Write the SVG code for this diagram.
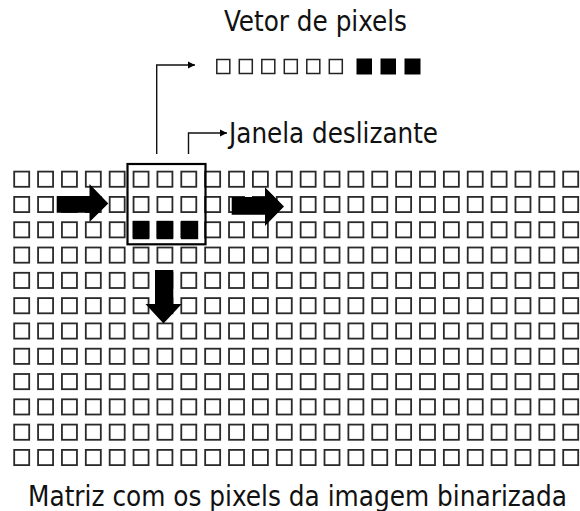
<svg xmlns="http://www.w3.org/2000/svg" xmlns:xlink="http://www.w3.org/1999/xlink" width="580" height="511" viewBox="0 0 580 511">
<style>
  .sq{fill:#fff;stroke:#2a2a2a;stroke-width:1.8}
  .fill{fill:#000}
  .vsq{fill:#fff;stroke:#222;stroke-width:1.5}
  .win{fill:none;stroke:#000;stroke-width:2.2}
  .con{fill:none;stroke:#111;stroke-width:1.4}
  .blk{fill:#000}
  .lbl{font-family:"DejaVu Sans Condensed","DejaVu Sans",sans-serif;font-size:28px;fill:#111}
</style>
<defs>
  <rect id="sq" x="0.9" y="0.9" width="15" height="15.2" class="sq"/>
  <g id="row">
    <use href="#sq" x="13.3"/><use href="#sq" x="37.17"/><use href="#sq" x="61.04"/><use href="#sq" x="84.91"/>
    <use href="#sq" x="108.78"/><use href="#sq" x="132.65"/><use href="#sq" x="156.52"/><use href="#sq" x="180.39"/>
    <use href="#sq" x="204.26"/><use href="#sq" x="228.13"/><use href="#sq" x="252"/><use href="#sq" x="275.87"/>
    <use href="#sq" x="299.74"/><use href="#sq" x="323.61"/><use href="#sq" x="347.48"/><use href="#sq" x="371.35"/>
    <use href="#sq" x="395.22"/><use href="#sq" x="419.09"/><use href="#sq" x="442.96"/><use href="#sq" x="466.83"/>
    <use href="#sq" x="490.7"/><use href="#sq" x="514.57"/><use href="#sq" x="538.44"/><use href="#sq" x="562.31"/>
  </g>
  <marker id="ah" markerWidth="8" markerHeight="8" refX="7" refY="4" orient="auto" markerUnits="userSpaceOnUse">
    <path d="M0,0.6 L7,4 L0,7.4 Z" fill="#000"/>
  </marker>
</defs>
<rect width="580" height="511" fill="#fff"/>

<g id="matrix">
  <use href="#row" y="170.7"/>
  <use href="#row" y="196"/>
  <use href="#row" y="221.3"/>
  <use href="#row" y="246.6"/>
  <use href="#row" y="271.9"/>
  <use href="#row" y="297.2"/>
  <use href="#row" y="322.5"/>
  <use href="#row" y="347.8"/>
  <use href="#row" y="373.1"/>
  <use href="#row" y="398.4"/>
  <use href="#row" y="423.7"/>
  <use href="#row" y="449"/>
  <rect class="fill" x="132.7" y="220.8" width="16.6" height="18.4"/>
  <rect class="fill" x="156.6" y="220.8" width="16.6" height="18.4"/>
  <rect class="fill" x="181" y="220.8" width="17.2" height="18.4"/>
</g>

<g id="window">
  <rect class="win" x="127.5" y="164" width="78" height="80.3"/>
</g>

<g id="motion-arrows">
  <polygon class="blk" points="56.7,196 89.5,196 89.5,184 108.3,203.5 89.5,222 89.5,212.7 56.7,212.7"/>
  <polygon class="blk" points="231.7,197 265,197 265,187.3 284,206.5 265,226 265,214.7 231.7,214.7"/>
  <polygon class="blk" points="155,270 173.3,270 173.3,304 181.7,304 163.5,323.5 145.5,304 155,304"/>
</g>

<g id="vector">
  <rect class="vsq" x="216.8" y="59.5" width="13" height="14"/>
  <rect class="vsq" x="239.3" y="59.5" width="13" height="14"/>
  <rect class="vsq" x="261.8" y="59.5" width="13" height="14"/>
  <rect class="vsq" x="284.3" y="59.5" width="13" height="14"/>
  <rect class="vsq" x="306.8" y="59.5" width="13" height="14"/>
  <rect class="vsq" x="329.3" y="59.5" width="13" height="14"/>
  <rect class="fill" x="356.5" y="58.5" width="15.5" height="16"/>
  <rect class="fill" x="380.5" y="58.5" width="15.5" height="16"/>
  <rect class="fill" x="404.5" y="58.5" width="16" height="16"/>
</g>

<g id="connectors">
  <path class="con" d="M156.7,154 V65 H195" marker-end="url(#ah)"/>
  <path class="con" d="M188.5,154 V133 H227" marker-end="url(#ah)"/>
</g>

<g id="labels">
  <text class="lbl" x="224" y="31" textLength="183" lengthAdjust="spacingAndGlyphs">Vetor de pixels</text>
  <text class="lbl" x="229" y="143" textLength="209" lengthAdjust="spacingAndGlyphs">Janela deslizante</text>
  <text class="lbl" x="28" y="505.5" textLength="539" lengthAdjust="spacingAndGlyphs">Matriz com os pixels da imagem binarizada</text>
</g>
</svg>
